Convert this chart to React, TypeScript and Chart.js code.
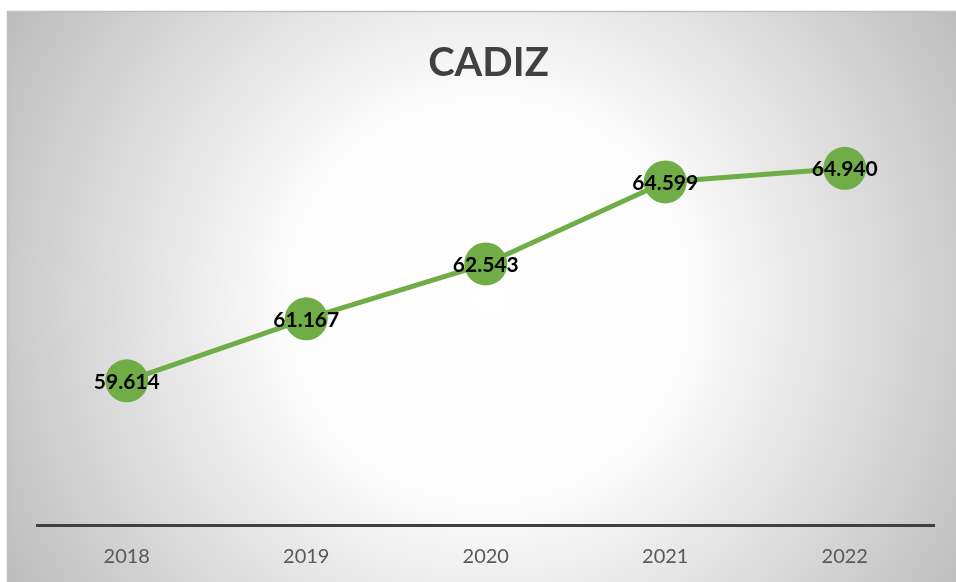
import React, { useEffect, useRef } from "react";
import { Chart, registerables } from "chart.js";

Chart.register(...registerables);

const years = ["2018", "2019", "2020", "2021", "2022"];
const values = [59.614, 61.167, 62.543, 64.599, 64.94];
const valueLabels = ["59.614", "61.167", "62.543", "64.599", "64.940"];
const chartTitle = "CADIZ";

const FONT = "Lato, 'Open Sans', sans-serif";

const backgroundPlugin = {
  id: "bgBox",
  beforeDraw(chart: any) {
    const { ctx, width, height } = chart;
    ctx.save();
    const x0 = 7, y0 = 11;
    const cx = 488, cy = 300;
    const g = ctx.createRadialGradient(cx, cy, 0, cx, cy, 560);
    g.addColorStop(0, "#ffffff");
    g.addColorStop(0.35, "#fdfdfd");
    g.addColorStop(1, "#bcbcbc");
    ctx.fillStyle = g;
    ctx.fillRect(x0, y0, width - x0, height - y0);
    ctx.strokeStyle = "#bfbfbf";
    ctx.lineWidth = 1.5;
    ctx.strokeRect(x0 + 0.5, y0 + 0.5, width + 20, height + 20);
    ctx.restore();
  },
};

const labelPlugin = {
  id: "valueLabels",
  afterDatasetsDraw(chart: any) {
    const { ctx } = chart;
    const meta = chart.getDatasetMeta(0);
    ctx.save();
    ctx.font = `bold 21px ${FONT}`;
    ctx.fillStyle = "#000000";
    ctx.textAlign = "center";
    ctx.textBaseline = "middle";
    meta.data.forEach((pt: any, i: number) => {
      ctx.fillText(valueLabels[i], pt.x, pt.y + 1);
    });
    ctx.restore();
  },
};

export default function App() {
  const ref = useRef<HTMLCanvasElement | null>(null);
  useEffect(() => {
    if (!ref.current) return;
    const chart = new Chart(ref.current, {
      type: "line",
      data: {
        labels: years,
        datasets: [
          {
            data: values,
            borderColor: "#70AD47",
            backgroundColor: "#70AD47",
            borderWidth: 5,
            pointRadius: 21.5,
            pointHoverRadius: 21.5,
            pointBorderWidth: 0,
            pointBackgroundColor: "#70AD47",
            tension: 0,
          },
        ],
      },
      options: {
        responsive: false,
        animation: false,
        events: [],
        layout: { padding: { left: 37, right: 16, top: 0, bottom: -7 } },
        plugins: {
          legend: { display: false },
          tooltip: { enabled: false },
          title: {
            display: true,
            text: chartTitle,
            color: "#404040",
            font: { family: FONT, size: 40, weight: "bold" },
            padding: { top: 39, bottom: 39 },
          },
        },
        scales: {
          x: {
            offset: true,
            grid: { display: false, drawTicks: false },
            border: { display: true, color: "#404040", width: 3 },
            ticks: {
              color: "#595959",
              font: { family: FONT, size: 20 },
              padding: 20,
            },
          },
          y: {
            display: false,
            min: 56,
            max: 66,
          },
        },
      },
      plugins: [backgroundPlugin, labelPlugin],
    });
    return () => chart.destroy();
  }, []);
  return (
    <div style={{ position: "fixed", left: 0, top: 0, width: 956, height: 582 }}>
      <canvas ref={ref} width={956} height={582} style={{ display: "block" }} />
    </div>
  );
}
